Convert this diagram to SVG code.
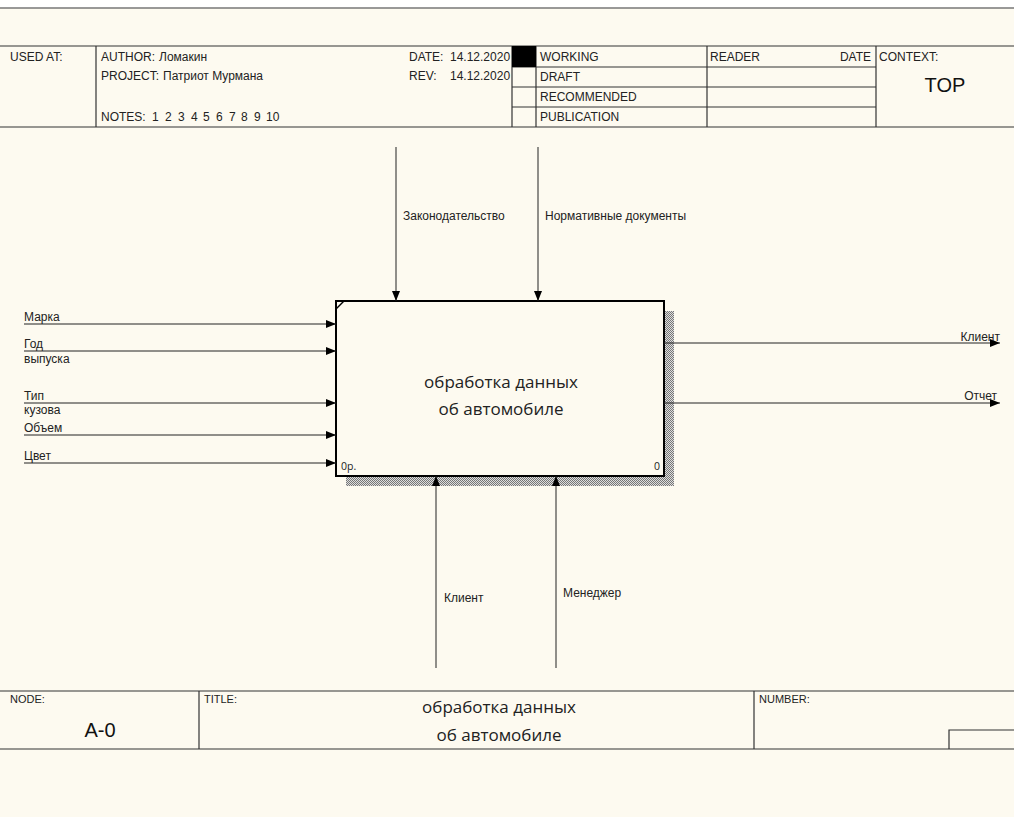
<svg xmlns="http://www.w3.org/2000/svg" width="1014" height="817" viewBox="0 0 1014 817">
<defs>
<style>
.t{font-family:"Liberation Sans",Arial,sans-serif;font-size:12px;fill:#222}
.big{font-family:"Open Sans","Noto Sans",sans-serif;font-size:17px;fill:#222}
.ln{stroke:#333;stroke-width:1.2;fill:none}
.ar{stroke:#222;stroke-width:1;fill:none;marker-end:url(#ah)}
</style>
<marker id="ah" markerWidth="10" markerHeight="8" refX="10" refY="4" orient="auto" markerUnits="userSpaceOnUse">
<path d="M0,0 L10,4 L0,8 Z" fill="#000"/>
</marker>
<pattern id="hatch" width="2" height="2" patternUnits="userSpaceOnUse">
<rect width="2" height="2" fill="#ddd"/>
<rect width="1" height="1" fill="#777"/>
<rect x="1" y="1" width="1" height="1" fill="#777"/>
</pattern>
</defs>
<rect width="1014" height="817" fill="#fdfaf0"/>
<rect width="1014" height="8" fill="#ffffff"/>
<line x1="0" y1="8" x2="1014" y2="8" stroke="#777" stroke-width="1.5"/>

<g id="header">
<line class="ln" x1="0" y1="46" x2="1014" y2="46"/>
<line class="ln" x1="0" y1="127" x2="1014" y2="127"/>
<line class="ln" x1="96" y1="46" x2="96" y2="127"/>
<line class="ln" x1="512" y1="46" x2="512" y2="127"/>
<line class="ln" x1="536" y1="46" x2="536" y2="127"/>
<line class="ln" x1="707" y1="46" x2="707" y2="127"/>
<line class="ln" x1="876" y1="46" x2="876" y2="127"/>
<line class="ln" x1="512" y1="67" x2="876" y2="67"/>
<line class="ln" x1="512" y1="87" x2="876" y2="87"/>
<line class="ln" x1="512" y1="107" x2="876" y2="107"/>
<rect x="512" y="46" width="24" height="21" fill="#000"/>
<text class="t" x="10" y="61">USED AT:</text>
<text class="t" x="101" y="61">AUTHOR:</text>
<text class="t" x="159" y="61">Ломакин</text>
<text class="t" x="101" y="80">PROJECT:</text>
<text class="t" x="163" y="80">Патриот Мурмана</text>
<text class="t" x="101" y="121">NOTES:</text>
<text class="t" y="121"><tspan x="152">1</tspan><tspan x="165">2</tspan><tspan x="178">3</tspan><tspan x="191">4</tspan><tspan x="203">5</tspan><tspan x="216">6</tspan><tspan x="229">7</tspan><tspan x="241">8</tspan><tspan x="254">9</tspan><tspan x="266">10</tspan></text>
<text class="t" x="409" y="61">DATE:</text>
<text class="t" x="450" y="61">14.12.2020</text>
<text class="t" x="409" y="80">REV:</text>
<text class="t" x="450" y="80">14.12.2020</text>
<text class="t" x="540" y="61">WORKING</text>
<text class="t" x="540" y="81">DRAFT</text>
<text class="t" x="540" y="101">RECOMMENDED</text>
<text class="t" x="540" y="121">PUBLICATION</text>
<text class="t" x="710" y="61">READER</text>
<text class="t" x="871" y="61" text-anchor="end">DATE</text>
<text class="t" x="879" y="61">CONTEXT:</text>
<text x="945" y="92" text-anchor="middle" style="font-family:'Liberation Sans',Arial,sans-serif;font-size:20px;fill:#111">TOP</text>
</g>

<g id="node-A0">
<rect x="664" y="311" width="10" height="175" fill="url(#hatch)"/>
<rect x="346" y="476" width="328" height="10" fill="url(#hatch)"/>
<rect x="336" y="301" width="328" height="175" fill="#fdfaf0" stroke="#000" stroke-width="2"/>
<line x1="336" y1="309" x2="344" y2="301" stroke="#000" stroke-width="1.5"/>
<text class="big" x="501" y="388" text-anchor="middle">обработка данных</text>
<text class="big" x="501" y="415" text-anchor="middle">об автомобиле</text>
<text x="341" y="470" style="font-family:'Open Sans',sans-serif;font-size:10.5px;fill:#222">0р.</text>
<text x="660" y="470" text-anchor="end" style="font-family:'Open Sans',sans-serif;font-size:10.5px;fill:#222">0</text>
</g>

<g id="connectors">
<line class="ar" x1="24" y1="324" x2="336" y2="324"/>
<line class="ar" x1="24" y1="351" x2="336" y2="351"/>
<line class="ar" x1="24" y1="403" x2="336" y2="403"/>
<line class="ar" x1="24" y1="435" x2="336" y2="435"/>
<line class="ar" x1="24" y1="463" x2="336" y2="463"/>
<line class="ar" x1="396" y1="147" x2="396" y2="301"/>
<line class="ar" x1="538" y1="147" x2="538" y2="301"/>
<line class="ar" x1="436" y1="668" x2="436" y2="476"/>
<line class="ar" x1="556" y1="668" x2="556" y2="476"/>
<line class="ar" x1="664" y1="343" x2="1000" y2="343"/>
<line class="ar" x1="664" y1="403" x2="1000" y2="403"/>
<text class="t" x="24" y="321">Марка</text>
<text class="t" x="24" y="348">Год</text>
<text class="t" x="24" y="363">выпуска</text>
<text class="t" x="24" y="400">Тип</text>
<text class="t" x="24" y="414">кузова</text>
<text class="t" x="24" y="432">Объем</text>
<text class="t" x="24" y="460">Цвет</text>
<text class="t" x="403" y="220">Законодательство</text>
<text class="t" x="545" y="220">Нормативные документы</text>
<text class="t" x="444" y="602">Клиент</text>
<text class="t" x="563" y="597">Менеджер</text>
<text class="t" x="1000" y="341" text-anchor="end">Клиент</text>
<text class="t" x="997" y="400" text-anchor="end">Отчет</text>
</g>

<g id="footer">
<line class="ln" x1="0" y1="691" x2="1014" y2="691"/>
<line class="ln" x1="0" y1="749" x2="1014" y2="749"/>
<line class="ln" x1="199" y1="691" x2="199" y2="749"/>
<line class="ln" x1="754" y1="691" x2="754" y2="749"/>
<polyline class="ln" points="949,749 949,730 1014,730"/>
<text class="t" x="10" y="703" style="font-size:11px">NODE:</text>
<text x="100" y="737" text-anchor="middle" style="font-family:'Liberation Sans',Arial,sans-serif;font-size:20px;fill:#111">A-0</text>
<text class="t" x="204" y="703" style="font-size:11px">TITLE:</text>
<text class="big" x="499" y="713" text-anchor="middle">обработка данных</text>
<text class="big" x="499" y="741" text-anchor="middle">об автомобиле</text>
<text class="t" x="759" y="703" style="font-size:11px">NUMBER:</text>
</g>
</svg>
